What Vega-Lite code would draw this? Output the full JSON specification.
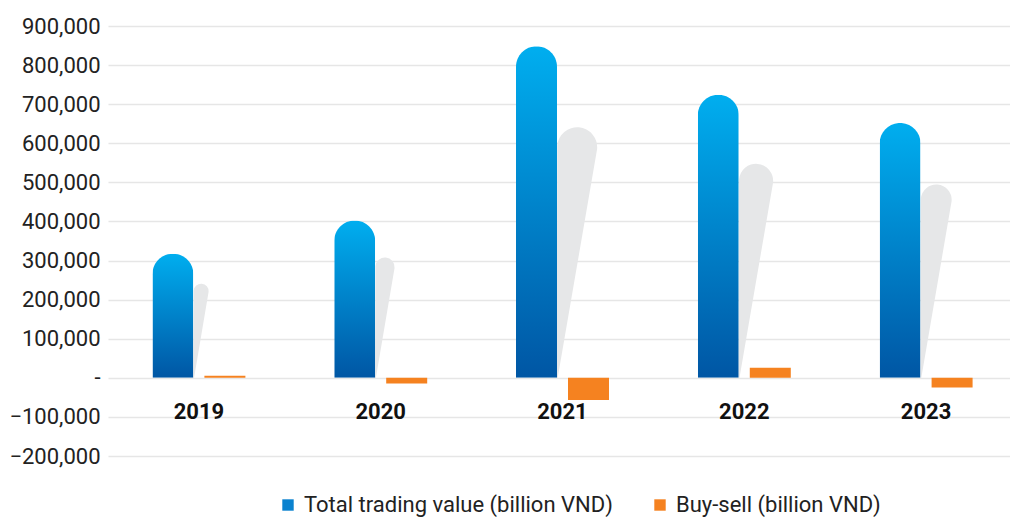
{
  "$schema": "https://vega.github.io/schema/vega-lite/v6.json",
  "width": 902,
  "height": 430,
  "autosize": {"type": "none"},
  "padding": {"left": 108, "top": 26, "right": 0, "bottom": 63},
  "background": "white",
  "config": {
    "view": {"stroke": null},
    "font": "Roboto"
  },
  "datasets": {
    "bars": [
      {"year": "2019", "series": "Total trading value (billion VND)", "value": 317700},
      {"year": "2020", "series": "Total trading value (billion VND)", "value": 402700},
      {"year": "2021", "series": "Total trading value (billion VND)", "value": 848000},
      {"year": "2022", "series": "Total trading value (billion VND)", "value": 724000},
      {"year": "2023", "series": "Total trading value (billion VND)", "value": 652000},
      {"year": "2019", "series": "Buy-sell (billion VND)", "value": 5000},
      {"year": "2020", "series": "Buy-sell (billion VND)", "value": -14300},
      {"year": "2021", "series": "Buy-sell (billion VND)", "value": -57000},
      {"year": "2022", "series": "Buy-sell (billion VND)", "value": 25500},
      {"year": "2023", "series": "Buy-sell (billion VND)", "value": -24500}
    ],
    "shadow": [
      {"year": "2019", "value": 0},
      {"year": "2019", "value": 221700},
      {"year": "2020", "value": 0},
      {"year": "2020", "value": 283000},
      {"year": "2021", "value": 0},
      {"year": "2021", "value": 589700},
      {"year": "2022", "value": 0},
      {"year": "2022", "value": 503700},
      {"year": "2023", "value": 0},
      {"year": "2023", "value": 455000}
    ]
  },
  "encoding": {
    "x": {
      "field": "year",
      "type": "nominal",
      "scale": {"paddingInner": 0, "paddingOuter": 0, "range": [0, 909]},
      "axis": {
        "title": null,
        "orient": "bottom",
        "offset": -55,
        "domain": false,
        "ticks": false,
        "grid": false,
        "labelAngle": 0,
        "labelFontSize": 22,
        "labelFontWeight": "bold",
        "labelColor": "#111111",
        "labelPadding": 0,
        "labelBaseline": "top"
      }
    },
    "y": {
      "field": "value",
      "type": "quantitative",
      "scale": {"domain": [-200000, 900000], "nice": false, "zero": false},
      "axis": {
        "title": null,
        "values": [-200000, -100000, 0, 100000, 200000, 300000, 400000, 500000, 600000, 700000, 800000, 900000],
        "labelExpr": "datum.value == 0 ? '-' : format(datum.value, ',')",
        "domain": false,
        "ticks": false,
        "grid": true,
        "gridColor": "#e6e6e6",
        "gridWidth": 1.5,
        "labelFontSize": 22,
        "labelColor": "#222222",
        "labelPadding": 8
      }
    }
  },
  "layer": [
    {
      "data": {"name": "shadow"},
      "mark": {"type": "trail", "color": "#e6e7e8"},
      "encoding": {
        "xOffset": {
          "field": "value",
          "type": "quantitative",
          "scale": {"domain": [0, 1000000], "range": [85.6, 119.5], "zero": true}
        },
        "size": {
          "field": "value",
          "type": "quantitative",
          "scale": {"domain": [0, 1000000], "range": [0, 67.8], "zero": true},
          "legend": null
        },
        "detail": {"field": "year"},
        "order": {"field": "value", "type": "quantitative"}
      }
    },
    {
      "data": {"name": "bars"},
      "transform": [{"filter": "datum.series == 'Total trading value (billion VND)'"}],
      "mark": {
        "type": "bar",
        "cornerRadiusTopLeft": 20.5,
        "cornerRadiusTopRight": 20.5,
        "color": {
          "gradient": "linear",
          "x1": 0, "y1": 0, "x2": 0, "y2": 1,
          "stops": [
            {"offset": 0, "color": "#00aeef"},
            {"offset": 1, "color": "#0056a4"}
          ]
        }
      },
      "encoding": {
        "xOffset": {
          "field": "series",
          "type": "nominal",
          "scale": {
            "domain": ["Total trading value (billion VND)", "Buy-sell (billion VND)"],
            "paddingInner": 0.2115,
            "paddingOuter": 0.854
          }
        }
      }
    },
    {
      "data": {"name": "bars"},
      "transform": [{"filter": "datum.series == 'Buy-sell (billion VND)'"}],
      "mark": {"type": "bar"},
      "encoding": {
        "xOffset": {
          "field": "series",
          "type": "nominal",
          "scale": {
            "domain": ["Total trading value (billion VND)", "Buy-sell (billion VND)"],
            "paddingInner": 0.2115,
            "paddingOuter": 0.854
          }
        },
        "color": {
          "field": "series",
          "type": "nominal",
          "scale": {
            "domain": ["Total trading value (billion VND)", "Buy-sell (billion VND)"],
            "range": ["#0a82cf", "#f58220"]
          },
          "legend": {
            "title": null,
            "orient": "none",
            "legendX": 169,
            "legendY": 468,
            "direction": "horizontal",
            "symbolType": "square",
            "symbolSize": 130,
            "symbolStrokeWidth": 0,
            "symbolOpacity": 1,
            "labelFontSize": 22,
            "labelLimit": 0,
            "labelColor": "#222222",
            "labelOffset": 5,
            "columnPadding": 36,
            "encode": {
              "symbols": {
                "update": {
                  "fill": [
                    {"test": "datum.value === 'Buy-sell (billion VND)'", "value": "#f58220"},
                    {"value": {"gradient": "linear", "x1": 0, "y1": 0, "x2": 1, "y2": 0, "stops": [{"offset": 0, "color": "#00aeef"}, {"offset": 1, "color": "#0056a4"}]}}
                  ]
                }
              }
            }
          }
        }
      }
    }
  ],
  "resolve": {"scale": {"xOffset": "independent"}}
}
